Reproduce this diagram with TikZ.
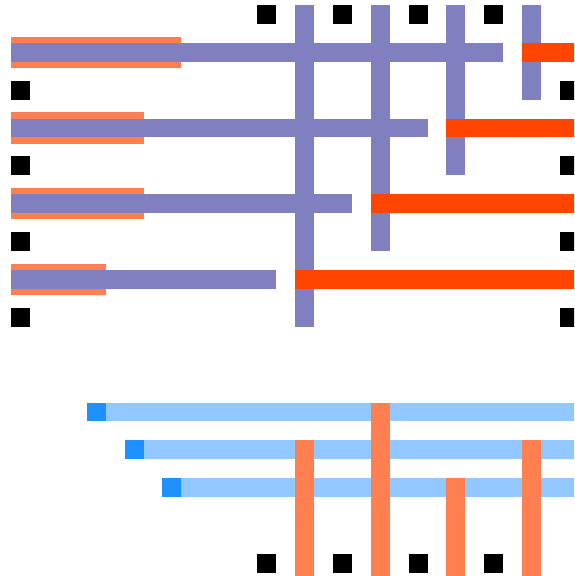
\documentclass[tikz,border=0pt]{standalone}
\definecolor{wire}{RGB}{128,128,192}
\definecolor{pad}{RGB}{255,127,80}
\definecolor{hot}{RGB}{255,69,0}
\definecolor{lane}{RGB}{144,200,255}
\definecolor{port}{RGB}{30,144,255}

\begin{document}
\begin{tikzpicture}[x=5mm,y=-5mm,
  pin/.style={fill=black},
  track/.style={fill=wire},
  shield/.style={fill=pad},
  live/.style={fill=hot}]
\clip (-0.58,-0.26) rectangle (29.74,30.16);
% upper block: rows
\foreach \y/\len/\sh in {2/26/9, 6/22/7, 10/18/7, 14/14/5} {
  \fill[shield] (0,\y-0.33) rectangle (\sh,\y+1.33);
  \fill[track] (0,\y) rectangle (\len,\y+1);
}
% upper block: columns
\foreach \x/\bot in {15/17, 19/13, 23/9, 27/5}
  \fill[track] (\x,0) rectangle (\x+1,\bot);
\foreach \y/\st in {2/27, 6/23, 10/19, 14/15}
  \fill[live] (\st,\y) rectangle (31,\y+1);
% pins
\foreach \x in {13,17,21,25} {
  \fill[pin] (\x,0) rectangle +(1,1);
  \fill[pin] (\x,29) rectangle +(1,1);
}
\foreach \y in {4,8,12,16} {
  \fill[pin] (0,\y) rectangle +(1,1);
  \fill[pin] (29,\y) rectangle +(1,1);
}
% lower block
\foreach \y/\x in {21/4, 23/6, 25/8} {
  \fill[lane] (\x+1,\y) rectangle (31,\y+1);
  \fill[port] (\x,\y) rectangle +(1,1);
}
\foreach \x/\top in {15/23, 19/21, 23/25, 27/23}
  \fill[shield] (\x,\top) rectangle (\x+1,31);
\end{tikzpicture}
\end{document}
